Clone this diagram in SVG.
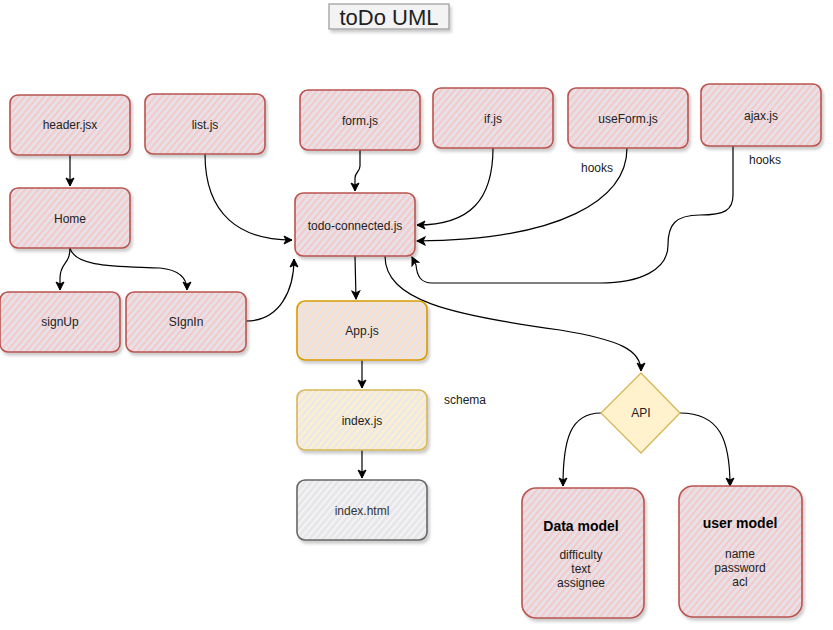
<svg xmlns="http://www.w3.org/2000/svg" width="833" height="630" viewBox="0 0 833 630">
<defs>
<pattern id="hr" width="5" height="5" patternUnits="userSpaceOnUse" patternTransform="rotate(40)">
<rect width="5" height="5" fill="#e4e2ea"/><rect width="2.2" height="5" fill="#f6c9c9"/>
</pattern>
<pattern id="ho" width="5" height="5" patternUnits="userSpaceOnUse" patternTransform="rotate(40)">
<rect width="5" height="5" fill="#e6e4ea"/><rect width="2.2" height="5" fill="#fde0c4"/>
</pattern>
<pattern id="hy" width="5" height="5" patternUnits="userSpaceOnUse" patternTransform="rotate(40)">
<rect width="5" height="5" fill="#eae8ea"/><rect width="2.2" height="5" fill="#fff0c8"/>
</pattern>
<pattern id="hg" width="5" height="5" patternUnits="userSpaceOnUse" patternTransform="rotate(40)">
<rect width="5" height="5" fill="#e6e6ea"/><rect width="2.2" height="5" fill="#f3f3f3"/>
</pattern>
<filter id="sh" x="-10%" y="-10%" width="130%" height="140%">
<feDropShadow dx="2" dy="3" stdDeviation="1.5" flood-color="#000" flood-opacity="0.2"/>
</filter>
<marker id="arr" markerWidth="10" markerHeight="10" refX="9" refY="5" orient="auto" markerUnits="userSpaceOnUse">
<path d="M1,1 L9,5 L1,9 L3,5 z" fill="#000" stroke="#000" stroke-width="1"/>
</marker>
</defs>
<style>
text{font-family:"Liberation Sans",Arial,sans-serif;font-size:12px;fill:#222;text-anchor:middle}
.red{fill:url(#hr);stroke:#b85450;stroke-width:1.6;filter:url(#sh)}
.org{fill:url(#ho);stroke:#d79b00;stroke-width:1.6;filter:url(#sh)}
.yel{fill:url(#hy);stroke:#d6b656;stroke-width:1.6;filter:url(#sh)}
.gry{fill:url(#hg);stroke:#666;stroke-width:1.6;filter:url(#sh)}
.c{fill:none;stroke:#000;stroke-width:1.2;marker-end:url(#arr)}
.b{font-weight:bold;font-size:14px;fill:#000}
</style>
<g id="title">
<rect x="329" y="4" width="120" height="25" fill="#f3f3f3" stroke="#999" stroke-width="1.2" filter="url(#sh)"/>
<text x="389" y="25" style="font-size:22px">toDo UML</text>
</g>
<g id="connectors">
<path class="c" d="M70,155 L70,186"/>
<path class="c" d="M205,154 C205,215 240,240 292,240"/>
<path class="c" d="M360,150 L360,166 C360,172 355,172 355,178 L355,191"/>
<path class="c" d="M493,148 C493,200 470,225 417,225"/>
<path class="c" d="M627,148 C627,200 560,240 417,241"/>
<path class="c" d="M733,146 L733,195 C733,210 725,215 700,215 C675,215 668,225 668,245 C668,270 640,283 600,283 L432,283 C420,283 417,275 416,265 L412,257"/>
<path class="c" d="M70,248 C70,265 60,262 60,278 L60,290"/>
<path class="c" d="M70,248 C75,268 120,266 160,268 C180,270 187,278 187,290"/>
<path class="c" d="M246,321 C280,321 294,290 294,259"/>
<path class="c" d="M355,256 L356,299"/>
<path class="c" d="M385,256 C385,300 450,315 560,330 C620,340 641,350 641,371"/>
<path class="c" d="M362,360 L362,388"/>
<path class="c" d="M362,450 L362,478"/>
<path class="c" d="M601,413 C570,413 563,440 563,486"/>
<path class="c" d="M680,413 C720,413 730,440 730,486"/>
</g>
<g id="header"><rect class="red" x="10" y="95" width="120" height="60" rx="8"/><text x="70" y="129">header.jsx</text></g>
<g id="list"><rect class="red" x="145" y="94" width="120" height="60" rx="8"/><text x="205" y="129">list.js</text></g>
<g id="form"><rect class="red" x="300" y="90" width="120" height="60" rx="8"/><text x="360" y="125">form.js</text></g>
<g id="if"><rect class="red" x="433" y="88" width="120" height="60" rx="8"/><text x="493" y="123">if.js</text></g>
<g id="useForm"><rect class="red" x="568" y="88" width="120" height="60" rx="8"/><text x="628" y="123">useForm.js</text></g>
<g id="ajax"><rect class="red" x="701" y="84" width="120" height="62" rx="8"/><text x="761" y="120">ajax.js</text></g>
<g id="hooks1"><text x="597" y="172">hooks</text></g>
<g id="hooks2"><text x="765" y="164">hooks</text></g>
<g id="home"><rect class="red" x="10" y="188" width="120" height="60" rx="8"/><text x="70" y="223">Home</text></g>
<g id="todo"><rect class="red" x="295" y="193" width="120" height="63" rx="8"/><text x="355" y="230">todo-connected.js</text></g>
<g id="signUp"><rect class="red" x="0" y="292" width="120" height="60" rx="8"/><text x="60" y="326">signUp</text></g>
<g id="signIn"><rect class="red" x="126" y="292" width="120" height="60" rx="8"/><text x="186" y="326">SIgnIn</text></g>
<g id="app"><rect class="org" x="297" y="301" width="130" height="59" rx="8"/><text x="362" y="335">App.js</text></g>
<g id="indexjs"><rect class="yel" x="297" y="390" width="130" height="60" rx="8"/><text x="362" y="425">index.js</text></g>
<g id="schema"><text x="465" y="404">schema</text></g>
<g id="indexhtml"><rect class="gry" x="297" y="480" width="130" height="60" rx="8"/><text x="362" y="515" style="fill:#333">index.html</text></g>
<g id="api"><path d="M641,373 L680,413 L641,453 L601,413 Z" fill="#fff2cc" stroke="#d6b656" stroke-width="1.3"/><text x="641" y="417">API</text></g>
<g id="datamodel"><rect class="red" x="522" y="488" width="122" height="130" rx="14"/>
<text class="b" x="581" y="531">Data model</text>
<text x="581" y="559">difficulty</text><text x="581" y="573">text</text><text x="581" y="587">assignee</text></g>
<g id="usermodel"><rect class="red" x="679" y="486" width="123" height="131" rx="14"/>
<text class="b" x="740" y="528">user model</text>
<text x="740" y="558">name</text><text x="740" y="572">password</text><text x="740" y="586">acl</text></g>
</svg>
